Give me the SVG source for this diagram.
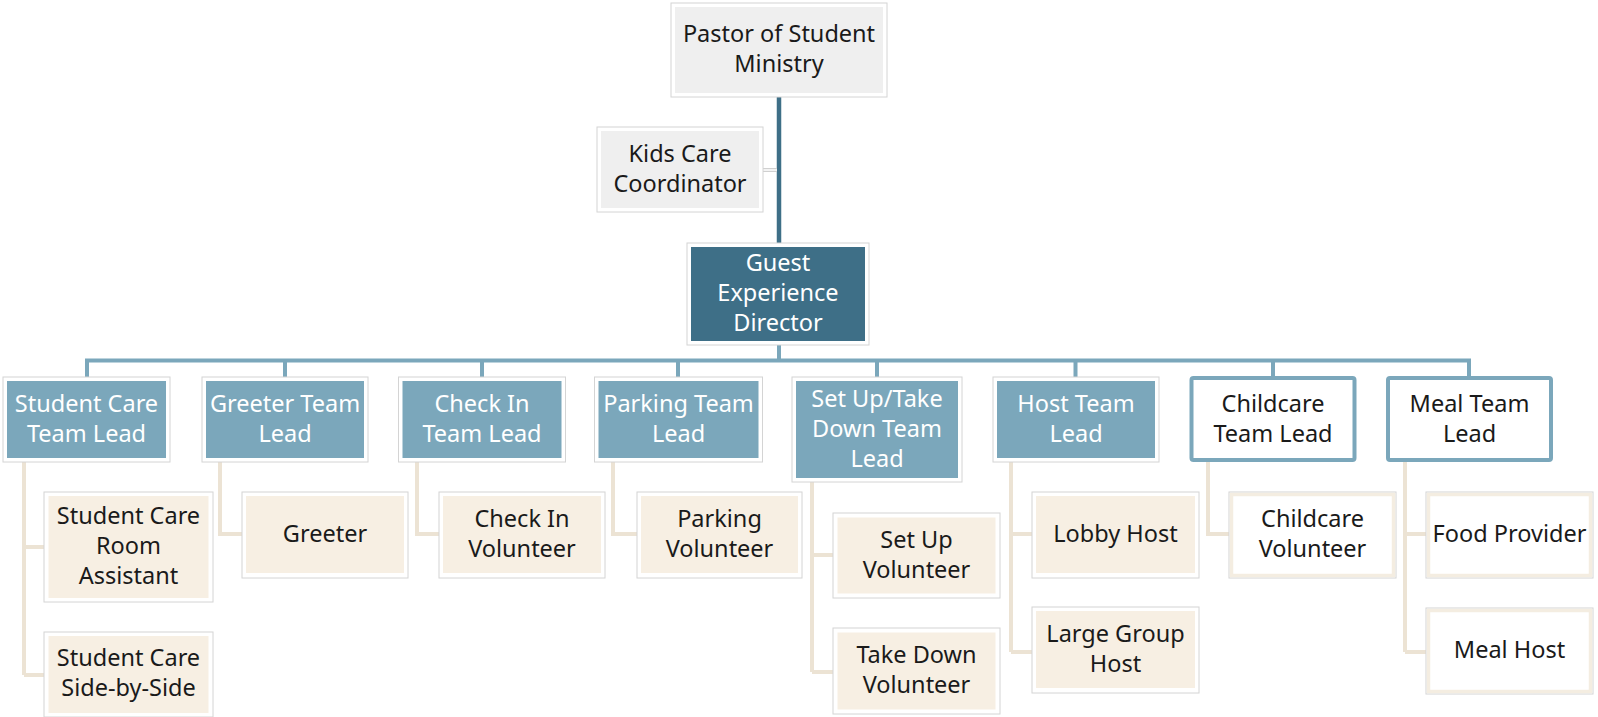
<svg xmlns="http://www.w3.org/2000/svg" width="1598" height="717" viewBox="0 0 1598 717">
<style>
.o{fill:#fff;stroke:#d4d4d4;stroke-width:1}
.gray{fill:#efefef}
.dark{fill:#3e6f87}
.blue{fill:#7ba7bb}
.beige{fill:#f7efe3}
.bframe{fill:#fff;stroke:#7ba7bb;stroke-width:4}
.eframe{fill:#fff;stroke:#f4ede1;stroke-width:3.5}
.t{font-family:"Noto Sans",Lato,sans-serif;font-size:23.5px;text-anchor:middle;fill:#1a1a1a}
.w{fill:#fff}
.main{fill:none;stroke:#3e6f87;stroke-width:4.5}
.lb{fill:none;stroke:#7ba7bb;stroke-width:4}
.bg{fill:none;stroke:#ece3d4;stroke-width:4}
.gl{fill:none;stroke:#d0d0d0;stroke-width:4}
.gli{fill:none;stroke:#f3f3f3;stroke-width:2}
</style>
<g id="connectors">
<path class="main" d="M779,97V243"/>
<path class="gl" d="M763,170H777"/>
<path class="gli" d="M763,170H777"/>
<path class="lb" d="M779,345V360.5M87,377V360.5H1469V377M285,360.5V377M482,360.5V377M678,360.5V377M877,360.5V377M1075.5,360.5V377M1273,360.5V377"/>
<path class="bg" d="M24,462V675M24,547H44M24,675H44"/>
<path class="bg" d="M220,462V534H242"/>
<path class="bg" d="M417,462V534H439"/>
<path class="bg" d="M613,462V534H637"/>
<path class="bg" d="M812,482V672M812,555H833M812,672H833"/>
<path class="bg" d="M1011,462V652M1011,534H1032M1011,652H1032"/>
<path class="bg" d="M1208,462V534H1229"/>
<path class="bg" d="M1405,462V652M1405,534H1426M1405,652H1426"/>
</g>
<g id="pastor"><rect class="o" x="671" y="3" width="216" height="94"/><rect class="gray" x="675" y="7" width="208" height="86"/><text class="t" x="779" y="42">Pastor of Student</text><text class="t" x="779" y="72">Ministry</text></g>
<g id="kids"><rect class="o" x="597" y="127" width="166" height="85"/><rect class="gray" x="601" y="131" width="158" height="77"/><text class="t" x="680" y="161.5">Kids Care</text><text class="t" x="680" y="191.5">Coordinator</text></g>
<g id="guest"><rect class="o" x="687" y="243" width="182" height="102"/><rect class="dark" x="691" y="247" width="174" height="94"/><text class="t w" x="778" y="271">Guest</text><text class="t w" x="778" y="301">Experience</text><text class="t w" x="778" y="331">Director</text></g>
<g id="lead-student-care"><rect class="o" x="3" y="377" width="167" height="85"/><rect class="blue" x="7" y="381" width="159" height="77"/><text class="t w" x="86.5" y="411.5">Student Care</text><text class="t w" x="86.5" y="441.5">Team Lead</text></g>
<g id="lead-greeter"><rect class="o" x="202" y="377" width="166" height="85"/><rect class="blue" x="206" y="381" width="158" height="77"/><text class="t w" x="285" y="411.5">Greeter Team</text><text class="t w" x="285" y="441.5">Lead</text></g>
<g id="lead-checkin"><rect class="o" x="398.5" y="377" width="167" height="85"/><rect class="blue" x="402.5" y="381" width="159" height="77"/><text class="t w" x="482" y="411.5">Check In</text><text class="t w" x="482" y="441.5">Team Lead</text></g>
<g id="lead-parking"><rect class="o" x="594.5" y="377" width="168" height="85"/><rect class="blue" x="598.5" y="381" width="160" height="77"/><text class="t w" x="678.5" y="411.5">Parking Team</text><text class="t w" x="678.5" y="441.5">Lead</text></g>
<g id="lead-setup"><rect class="o" x="792" y="377" width="170" height="105"/><rect class="blue" x="796" y="381" width="162" height="97"/><text class="t w" x="877" y="406.5">Set Up/Take</text><text class="t w" x="877" y="436.5">Down Team</text><text class="t w" x="877" y="466.5">Lead</text></g>
<g id="lead-host"><rect class="o" x="993" y="377" width="166" height="85"/><rect class="blue" x="997" y="381" width="158" height="77"/><text class="t w" x="1076" y="411.5">Host Team</text><text class="t w" x="1076" y="441.5">Lead</text></g>
<g id="lead-childcare"><rect class="bframe" x="1191.5" y="378" width="163" height="82" rx="2"/><text class="t" x="1273" y="411.5">Childcare</text><text class="t" x="1273" y="441.5">Team Lead</text></g>
<g id="lead-meal"><rect class="bframe" x="1388" y="378" width="163" height="82" rx="2"/><text class="t" x="1469.5" y="411.5">Meal Team</text><text class="t" x="1469.5" y="441.5">Lead</text></g>
<g id="sc-room"><rect class="o" x="44" y="492" width="169" height="110"/><rect class="beige" x="48.5" y="496" width="160" height="102"/><text class="t" x="128.5" y="524">Student Care</text><text class="t" x="128.5" y="554">Room</text><text class="t" x="128.5" y="584">Assistant</text></g>
<g id="sc-side"><rect class="o" x="44" y="632" width="169" height="85"/><rect class="beige" x="48.5" y="636" width="160" height="77"/><text class="t" x="128.5" y="666">Student Care</text><text class="t" x="128.5" y="696">Side-by-Side</text></g>
<g id="greeter"><rect class="o" x="242" y="492" width="166" height="86"/><rect class="beige" x="246" y="496" width="158" height="77"/><text class="t" x="325" y="542">Greeter</text></g>
<g id="checkin-vol"><rect class="o" x="439" y="492" width="166" height="86"/><rect class="beige" x="443" y="496" width="158" height="77"/><text class="t" x="522" y="527">Check In</text><text class="t" x="522" y="557">Volunteer</text></g>
<g id="parking-vol"><rect class="o" x="637" y="492" width="165" height="86"/><rect class="beige" x="641" y="496" width="157" height="77"/><text class="t" x="719.5" y="527">Parking</text><text class="t" x="719.5" y="557">Volunteer</text></g>
<g id="setup-vol"><rect class="o" x="833" y="513" width="167" height="85"/><rect class="beige" x="837.5" y="517.5" width="158" height="76"/><text class="t" x="916.5" y="548">Set Up</text><text class="t" x="916.5" y="578">Volunteer</text></g>
<g id="takedown-vol"><rect class="o" x="833" y="628" width="167" height="86"/><rect class="beige" x="837.5" y="632.5" width="158" height="77"/><text class="t" x="916.5" y="663">Take Down</text><text class="t" x="916.5" y="693">Volunteer</text></g>
<g id="lobby-host"><rect class="o" x="1032" y="492" width="167" height="86"/><rect class="beige" x="1036" y="496" width="159" height="77"/><text class="t" x="1115.5" y="542">Lobby Host</text></g>
<g id="large-group-host"><rect class="o" x="1032" y="607" width="167" height="86"/><rect class="beige" x="1036" y="611" width="159" height="77"/><text class="t" x="1115.5" y="642">Large Group</text><text class="t" x="1115.5" y="672">Host</text></g>
<g id="childcare-vol"><rect class="o" x="1229" y="492" width="167" height="86"/><rect class="eframe" x="1231.5" y="494.5" width="162" height="81"/><text class="t" x="1312.5" y="527">Childcare</text><text class="t" x="1312.5" y="557">Volunteer</text></g>
<g id="food-provider"><rect class="o" x="1426" y="492" width="167" height="86"/><rect class="eframe" x="1428.5" y="494.5" width="162" height="81"/><text class="t" x="1509.5" y="542">Food Provider</text></g>
<g id="meal-host"><rect class="o" x="1426" y="608" width="167" height="86"/><rect class="eframe" x="1428.5" y="610.5" width="162" height="81"/><text class="t" x="1509.5" y="658">Meal Host</text></g>
</svg>
